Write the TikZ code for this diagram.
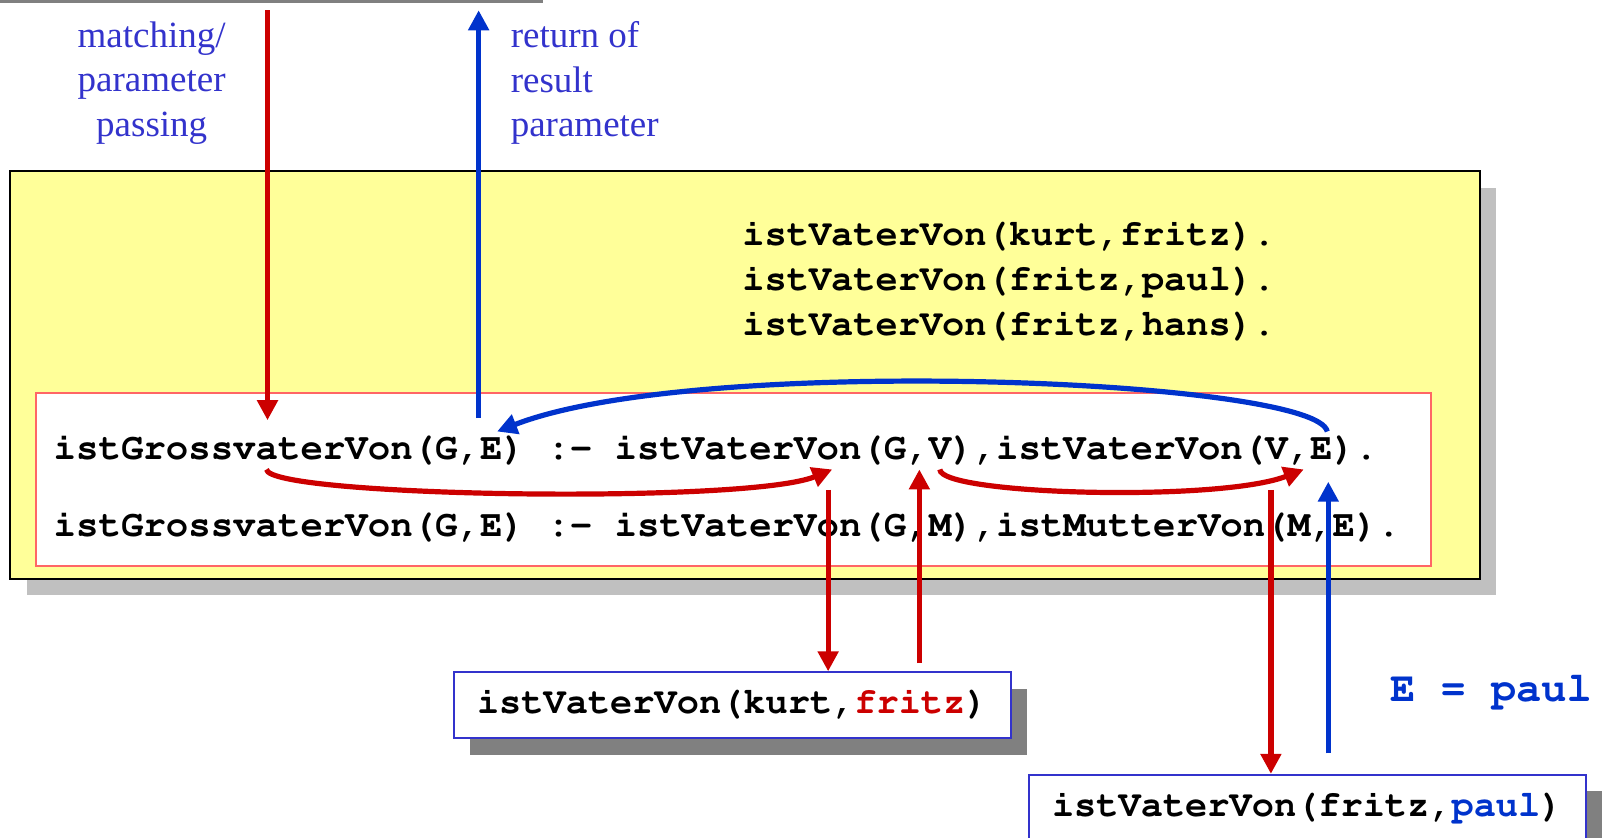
\documentclass[tikz,border=0pt]{standalone}
\usepackage[T1]{fontenc}
\usepackage{fontspec}
\setmainfont{Liberation Serif}
\usetikzlibrary{arrows.meta,positioning,shadows}

\definecolor{codered}{HTML}{CC0000}
\definecolor{codeblue}{HTML}{0033CC}
\definecolor{labelblue}{HTML}{3333CC}
\definecolor{factyellow}{HTML}{FFFF99}
\definecolor{ruleborder}{HTML}{FF6666}
\definecolor{shadowlight}{HTML}{C0C0C0}
\definecolor{shadowdark}{HTML}{808080}

\newcommand{\prologfont}{\fontencoding{T1}\fontfamily{pcr}\fontseries{b}\selectfont}

\tikzset{
    code/.style={font=\fontsize{18.5}{22.6}\prologfont, inner sep=0pt, align=left},
    rulecode/.style={code, font=\fontsize{18.7}{22.6}\prologfont},
    label/.style={font=\fontsize{18.5}{22.2}\selectfont, text=labelblue, inner sep=0pt},
    codebox/.style={code, draw=labelblue, line width=1pt, fill=white, inner xsep=11.5pt, inner ysep=7.2pt,
        text height=13.4pt, text depth=5.2pt, minimum width=278pt,
        drop shadow={shadow xshift=8.2pt, shadow yshift=-8.2pt, fill=shadowdark, opacity=1}},
    pass/.style={codered, line width=2.6pt, -{Triangle[length=10pt,width=10pt]}},
    back/.style={codeblue, line width=2.6pt, -{Triangle[length=10pt,width=10pt]}},
}

\begin{document}
\begin{tikzpicture}[x=0.5125pt, y=-0.5125pt]
    \useasboundingbox (0,0) rectangle (1565,817);
    \clip (0,0) rectangle (1565,817);

    % shadow edge of the box above
    \fill[shadowdark] (0,0) rectangle (530,3);

    % program
    \fill[shadowlight] (26,183) rectangle (1460,581);
    \draw[fill=factyellow, line width=1pt] (10,167) rectangle (1444,565);
    \draw[ruleborder, fill=white, line width=1pt] (35,383) rectangle (1396,552);

    \node[code, anchor=west] (facts) at (724,273.5) {istVaterVon(kurt,fritz).\\istVaterVon(fritz,paul).\\istVaterVon(fritz,hans).};
    \node[rulecode, anchor=west] (rule1) at (52,438) {istGrossvaterVon(G,E) :- istVaterVon(G,V),istVaterVon(V,E).};
    \node[rulecode, anchor=west] (rule2) at (52,513) {istGrossvaterVon(G,E) :- istVaterVon(G,M),istMutterVon(M,E).};

    % labels
    \node[label, align=center] (matching) at (148,81) {matching/\\parameter\\passing};
    \node[label, align=left, anchor=west] (result) at (498,81) {return of\\result\\parameter};

    % called facts
    \node[codebox, anchor=north] (kurt) at (714.5,655) {istVaterVon(kurt,\textcolor{codered}{fritz})};
    \node[codebox, anchor=north, text depth=40pt] (paul) at (1275.5,755) {istVaterVon(fritz,\textcolor{codeblue}{paul})};
    \node[code, anchor=west, font=\fontsize{21}{25}\prologfont, text=codeblue] (binding) at (1356,674) {E = paul};

    % end points
    \coordinate (passtop) at (261,10);
    \coordinate (passG) at (261,410);
    \coordinate (backtop) at (467,10);
    \coordinate (backE) at (467,408);
    \coordinate (headE) at (485,421);
    \coordinate (bodyE) at (1295,421);
    \coordinate (headG) at (260,458);
    \coordinate (callG) at (812,458);
    \coordinate (callV) at (917,458);
    \coordinate (nextV) at (1272,458);
    \coordinate (downkurt) at (808,478);
    \coordinate (upV) at (897,458);
    \coordinate (downfritz) at (1240,478);
    \coordinate (upE) at (1296,470);

    \draw[pass] (passtop) -- (passG);
    \draw[back] (backE) -- (backtop);
    \draw[back] (bodyE) .. controls (1285,370) and (680,345) .. (headE);
    \draw[pass] (headG) .. controls (262,485) and (730,492) .. (callG);
    \draw[pass] (callV) .. controls (917,483) and (1190,490) .. (nextV);

    \draw[pass] (downkurt) -- (kurt.north -| downkurt);
    \draw[pass] (kurt.north -| upV) ++(0,-8) -- (upV);
    \draw[pass] (downfritz) -- (paul.north -| downfritz);
    \draw[back] (paul.north -| upE) ++(0,-20) -- (upE);

\end{tikzpicture}
\end{document}
